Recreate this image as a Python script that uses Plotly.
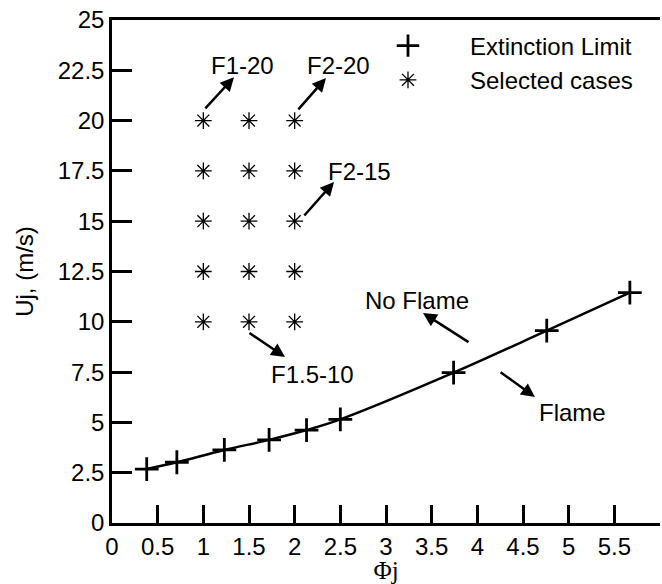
import plotly.graph_objects as go

# Extinction limit data
ext_phi = [0.38, 0.71, 1.23, 1.72, 2.13, 2.50, 3.74, 4.76, 5.67]
ext_u = [2.68, 3.02, 3.63, 4.13, 4.62, 5.15, 7.47, 9.56, 11.45]

# Selected cases grid
sel_phi_vals = [1.0, 1.5, 2.0]
sel_u_vals = [10, 12.5, 15, 17.5, 20]
sel_phi = [p for u in sel_u_vals for p in sel_phi_vals]
sel_u = [u for u in sel_u_vals for p in sel_phi_vals]

x_ticks = [0, 0.5, 1, 1.5, 2, 2.5, 3, 3.5, 4, 4.5, 5, 5.5, 6]
y_ticks = [0, 2.5, 5, 7.5, 10, 12.5, 15, 17.5, 20, 22.5, 25]

# annotations: (text, text_x, text_y, tail_x, tail_y, head_x, head_y)
labels = [
    ("F1-20", 1.424, 22.75, 1.007, 20.53, 1.336, 22.16),
    ("F2-20", 2.475, 22.75, 2.026, 20.48, 2.343, 22.12),
    ("F2-15", 2.705, 17.49, 2.091, 15.21, 2.431, 16.95),
    ("F1.5-10", 2.190, 7.40, 1.489, 9.49, 1.894, 8.25),
    ("No Flame", 3.340, 11.08, 3.920, 8.94, 3.405, 10.44),
    ("Flame", 5.037, 5.47, 4.238, 7.55, 4.631, 6.26),
]

FONT = "Liberation Sans, Arial, sans-serif"
FS = 24

fig = go.Figure()
fig.add_trace(go.Scatter(x=ext_phi, y=ext_u, mode="lines",
                         line=dict(color="black", width=2.5, shape="spline", smoothing=1.0),
                         showlegend=False, hoverinfo="skip"))
fig.add_trace(go.Scatter(x=ext_phi, y=ext_u, mode="markers", name="Extinction Limit",
                         marker=dict(symbol="cross-thin-open", size=17, color="black",
                                     line=dict(color="black", width=2.8))))
fig.add_trace(go.Scatter(x=sel_phi, y=sel_u, mode="markers", name="Selected cases",
                         marker=dict(symbol="asterisk-open", size=14, color="black",
                                     line=dict(color="black", width=1.3))))

anns = []
for t, tx, ty, ax, ay, hx, hy in labels:
    anns.append(dict(x=tx, y=ty, xref="x", yref="y", text=t, showarrow=False,
                     font=dict(family=FONT, size=FS, color="black")))
    anns.append(dict(x=hx, y=hy, xref="x", yref="y", ax=ax, ay=ay, axref="x", ayref="y",
                     text="", showarrow=True, arrowhead=2, arrowsize=1.1, arrowwidth=2.5,
                     arrowcolor="black", standoff=0, startstandoff=0))

fig.update_layout(
    width=662, height=584,
    margin=dict(l=112, r=2, t=20, b=61),
    plot_bgcolor="white", paper_bgcolor="white",
    font=dict(family=FONT, size=FS, color="black"),
    annotations=anns,
    legend=dict(x=0.427, y=0.993, xanchor="left", yanchor="top",
                bgcolor="rgba(0,0,0,0)", font=dict(family=FONT, size=FS),
                itemwidth=114, tracegroupgap=0),
    xaxis=dict(range=[0, 6], tickvals=x_ticks, ticktext=[f"{v:g}" for v in x_ticks],
               showgrid=False, zeroline=False, showline=True, linecolor="black", linewidth=2.5,
               mirror=True, ticks="inside", ticklen=18, tickwidth=2.5, tickcolor="black",
               title=dict(text="Φj", font=dict(family="Liberation Serif, Times New Roman, serif", size=25),
                          standoff=6)),
    yaxis=dict(range=[0, 25], tickvals=y_ticks, ticktext=[f"{v:g}" for v in y_ticks],
               showgrid=False, zeroline=False, showline=True, linecolor="black", linewidth=2.5,
               mirror=False, ticks="inside", ticklen=20, tickwidth=2.5, tickcolor="black",
               title=dict(text="Uj, (m/s)", font=dict(family=FONT, size=FS), standoff=18)),
)

fig.write_html("out.html")
